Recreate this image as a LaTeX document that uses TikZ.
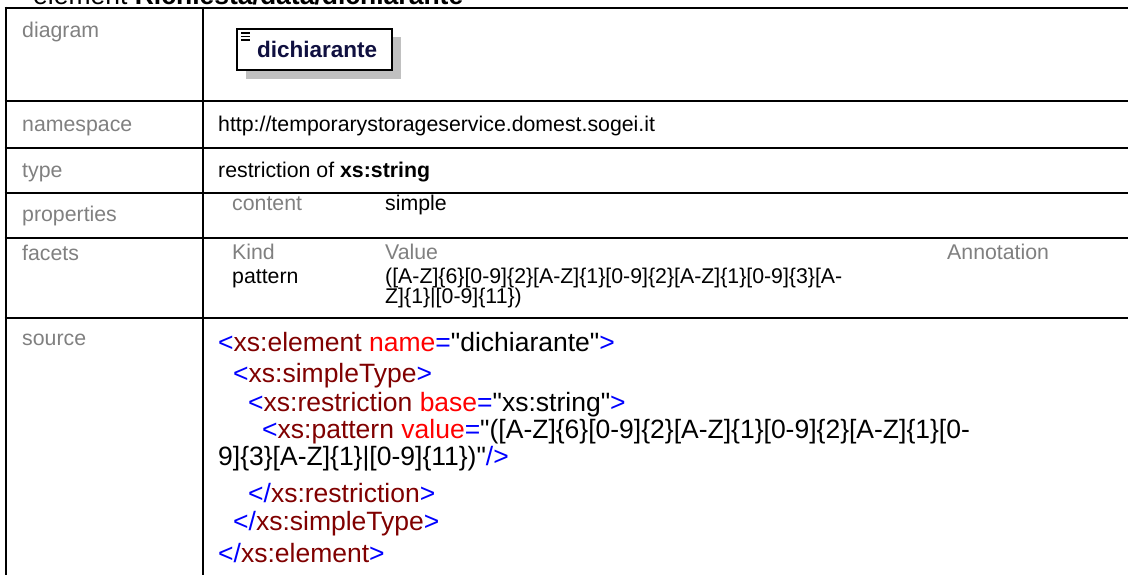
\documentclass[tikz,border=0pt]{standalone}
\usepackage{fontspec}
\setmainfont{Liberation Sans}[Ligatures=TeXOff]
\definecolor{labelgray}{HTML}{808080}
\definecolor{tagblue}{HTML}{0000FF}
\definecolor{elemred}{HTML}{800000}
\definecolor{attrred}{HTML}{FF0000}
\definecolor{shadowgray}{HTML}{C0C0C0}
\definecolor{boxtext}{HTML}{101040}
% helpers for the coloured XML source
\newcommand{\xtag}[1]{\textcolor{tagblue}{#1}}
\newcommand{\xel}[1]{\textcolor{elemred}{#1}}
\newcommand{\xatt}[1]{\textcolor{attrred}{#1}}
\tikzset{
  lbl/.style={anchor=base west, inner sep=0pt, text=labelgray, font=\fontsize{21.3}{24}\selectfont},
  val/.style={anchor=base west, inner sep=0pt, text=black, font=\fontsize{21.3}{24}\selectfont},
  code/.style={anchor=base west, inner sep=0pt, text=black, font=\fontsize{26.5}{30}\selectfont},
  rule/.style={line width=2.7pt, draw=black},
}
\begin{document}
\begin{tikzpicture}[x=1pt, y=-1pt]
\useasboundingbox (0,0) rectangle (1128,575);
\clip (0,0) rectangle (1128,575);
\fill[white] (0,0) rectangle (1128,575);

% heading, cut by the top edge
\node[code] (title) at (33,5) {element \textbf{Richiesta/data/dichiarante}};

% table grid
\foreach \yy in {8,101,148,193,238,318}
  \draw[rule] (4.65,\yy) -- (1130,\yy);
\draw[rule] (6,6.65) -- (6,580);
\draw[rule] (203,6.65) -- (203,580);

% row labels
\node[lbl] (ldiagram) at (22,38) {diagram};
\node[lbl] (lns) at (22,132) {namespace};
\node[lbl] (ltype) at (22,178) {type};
\node[lbl] (lprops) at (22,222) {properties};
\node[lbl] (lfacets) at (22,260) {facets};
\node[lbl] (lsource) at (22,345) {source};

% diagram: element box with shadow
\fill[shadowgray] (246,37) rectangle (401,79);
\draw[line width=2pt, fill=white] (237,29) rectangle (392,70);
\draw[line width=1.3pt] (241,33) -- (250,33) (241,36.5) -- (250,36.5) (241,40) -- (250,40);
\node[anchor=base west, inner sep=0pt, text=boxtext, font=\fontsize{22.5}{26}\selectfont\bfseries] (elbox) at (257,58) {dichiarante};

% namespace and type
\node[val] (vns) at (218,132) {http://temporarystorageservice.domest.sogei.it};
\node[val] (vtype) at (218,178) {restriction of \textbf{xs:string}};

% properties
\node[lbl] (pcontent) at (232,211) {content};
\node[val] (psimple) at (385,211) {simple};

% facets
\node[lbl] (fkind) at (232,259) {Kind};
\node[lbl] (fvalue) at (385,259) {Value};
\node[lbl] (fannot) at (947,259) {Annotation};
\node[val] (fpattern) at (232,283) {pattern};
\node[val] (fval1) at (385,283) {([A-Z]\{6\}[0-9]\{2\}[A-Z]\{1\}[0-9]\{2\}[A-Z]\{1\}[0-9]\{3\}[A-};
\node[val] (fval2) at (385,303) {Z]\{1\}|[0-9]\{11\})};

% XML source
\node[code] (s1) at (218,351) {\xtag{<}\xel{xs:element} \xatt{name}\xtag{=}"dichiarante"\xtag{>}};
\node[code] (s2) at (233,382) {\xtag{<}\xel{xs:simpleType}\xtag{>}};
\node[code] (s3) at (248,411) {\xtag{<}\xel{xs:restriction} \xatt{base}\xtag{=}"xs:string"\xtag{>}};
\node[code] (s4) at (262,438) {\xtag{<}\xel{xs:pattern} \xatt{value}\xtag{=}"([A-Z]\{6\}[0-9]\{2\}[A-Z]\{1\}[0-9]\{2\}[A-Z]\{1\}[0-};
\node[code] (s5) at (218,465) {9]\{3\}[A-Z]\{1\}|[0-9]\{11\})"\xtag{/>}};
\node[code] (s6) at (248,502) {\xtag{</}\xel{xs:restriction}\xtag{>}};
\node[code] (s7) at (233,530) {\xtag{</}\xel{xs:simpleType}\xtag{>}};
\node[code] (s8) at (218,562) {\xtag{</}\xel{xs:element}\xtag{>}};
\end{tikzpicture}
\end{document}
